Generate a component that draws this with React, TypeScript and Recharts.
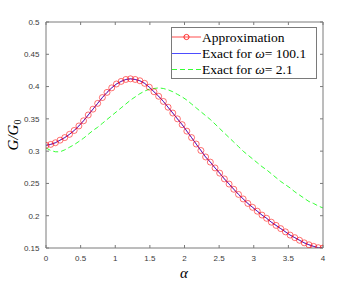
import React from 'react';
import { LineChart, Line, XAxis, YAxis, Label } from 'recharts';

const alpha = [0, 0.068, 0.136, 0.203, 0.271, 0.339, 0.407, 0.475, 0.542, 0.61, 0.678, 0.746, 0.814, 0.881, 0.949, 1.017, 1.085, 1.153, 1.22, 1.288, 1.356, 1.424, 1.492, 1.559, 1.627, 1.695, 1.763, 1.831, 1.898, 1.966, 2.034, 2.102, 2.169, 2.237, 2.305, 2.373, 2.441, 2.508, 2.576, 2.644, 2.712, 2.78, 2.847, 2.915, 2.983, 3.051, 3.119, 3.186, 3.254, 3.322, 3.39, 3.458, 3.525, 3.593, 3.661, 3.729, 3.797, 3.864, 3.932, 4];

const approximation = [0.309, 0.3105, 0.313, 0.317, 0.321, 0.326, 0.332, 0.339, 0.347, 0.356, 0.365, 0.374, 0.383, 0.391, 0.398, 0.404, 0.408, 0.411, 0.412, 0.411, 0.409, 0.405, 0.399, 0.392, 0.385, 0.377, 0.368, 0.359, 0.35, 0.341, 0.331, 0.321, 0.311, 0.301, 0.291, 0.283, 0.274, 0.266, 0.257, 0.249, 0.241, 0.233, 0.226, 0.219, 0.213, 0.207, 0.201, 0.196, 0.19, 0.185, 0.18, 0.175, 0.17, 0.166, 0.162, 0.158, 0.155, 0.1525, 0.1505, 0.15];

const exactOmega100 = [0.309, 0.3105, 0.313, 0.317, 0.321, 0.326, 0.332, 0.339, 0.347, 0.356, 0.365, 0.374, 0.383, 0.391, 0.398, 0.404, 0.408, 0.411, 0.412, 0.411, 0.409, 0.405, 0.399, 0.392, 0.385, 0.377, 0.368, 0.359, 0.35, 0.341, 0.331, 0.321, 0.311, 0.301, 0.291, 0.283, 0.274, 0.266, 0.257, 0.249, 0.241, 0.233, 0.226, 0.219, 0.213, 0.207, 0.201, 0.196, 0.19, 0.185, 0.18, 0.175, 0.17, 0.166, 0.162, 0.158, 0.155, 0.1525, 0.1505, 0.15];

const exactOmega2 = [0.305, 0.301, 0.299, 0.299, 0.302, 0.306, 0.31, 0.315, 0.32, 0.326, 0.332, 0.337, 0.343, 0.349, 0.355, 0.361, 0.367, 0.373, 0.379, 0.384, 0.389, 0.393, 0.396, 0.397, 0.398, 0.397, 0.395, 0.392, 0.388, 0.384, 0.379, 0.373, 0.367, 0.361, 0.355, 0.349, 0.342, 0.335, 0.328, 0.321, 0.314, 0.307, 0.3, 0.294, 0.288, 0.282, 0.276, 0.271, 0.265, 0.259, 0.253, 0.248, 0.243, 0.237, 0.232, 0.227, 0.222, 0.219, 0.215, 0.212];

const xTicks = [0, 0.5, 1, 1.5, 2, 2.5, 3, 3.5, 4];
const yTicks = [0.15, 0.2, 0.25, 0.3, 0.35, 0.4, 0.45, 0.5];

const legendLabels = ['Approximation', 'Exact for ', 'Exact for '];

const data = alpha.map((a, i) => ({
  alpha: a,
  approx: approximation[i],
  exact100: exactOmega100[i],
  exact2: exactOmega2[i],
}));

const AXIS = '#7a7a7a';
const TICKTXT = '#3a3a3a';
const SERIF = "'Liberation Serif', 'Times New Roman', serif";
const SANS = "'Liberation Sans', Arial, Helvetica, sans-serif";

const tickStyle = { fontSize: 8, fill: TICKTXT, fontFamily: SANS };

const YLabel = () => (
  <text
    transform="translate(18,135) rotate(-90)"
    textAnchor="middle"
    fontFamily={SERIF}
    fontStyle="italic"
    fontSize={15}
    fill="#000"
  >
    G/G<tspan fontSize={10} dy={3} fontStyle="normal">0</tspan>
  </text>
);

const XLabel = () => (
  <text x={184} y={278} textAnchor="middle" fontFamily={SERIF} fontStyle="italic" fontSize={15} fill="#000">
    α
  </text>
);

const LegendBox = () => (
  <svg width={146} height={52} style={{ position: 'absolute', left: 171, top: 27 }}>
    <rect x={0.5} y={0.5} width={145} height={51} fill="#fff" stroke="#7a7a7a" strokeWidth={1} />
    <line x1={1} x2={30} y1={10} y2={10} stroke="#ff0000" strokeWidth={0.7} />
    <circle cx={15.5} cy={10} r={2.6} fill="none" stroke="#ff0000" strokeWidth={0.8} />
    <line x1={1} x2={30} y1={26.5} y2={26.5} stroke="#0000ff" strokeWidth={0.7} />
    <line x1={1} x2={30} y1={42.5} y2={42.5} stroke="#00ff00" strokeWidth={0.8} strokeDasharray="5 3" />
    <text x={31} y={14.5} fontFamily={SERIF} fontSize={13.5} fill="#000">{legendLabels[0]}</text>
    <text x={31} y={31} fontFamily={SERIF} fontSize={13.5} fill="#000">
      {legendLabels[1]}<tspan fontStyle="italic">ω</tspan>= 100.1
    </text>
    <text x={31} y={47} fontFamily={SERIF} fontSize={13.5} fill="#000">
      {legendLabels[2]}<tspan fontStyle="italic">ω</tspan>= 2.1
    </text>
  </svg>
);

export default function App() {
  return (
    <div style={{ position: 'absolute', left: 0, top: 0, width: 357, height: 282, background: '#fff' }}>
      <LineChart width={357} height={282} data={data} margin={{ top: 21, right: 33, bottom: 0, left: 0 }}>
        <XAxis
          xAxisId="bottom"
          dataKey="alpha"
          type="number"
          domain={[0, 4]}
          ticks={xTicks}
          allowDataOverflow
          height={34}
          stroke={AXIS}
          tick={tickStyle}
          tickSize={-3}
          tickMargin={10}
          tickLine={{ stroke: AXIS }}
          tickFormatter={(v: number) => String(v)}
        >
          <Label content={<XLabel />} />
        </XAxis>
        <XAxis
          xAxisId="top"
          orientation="top"
          dataKey="alpha"
          type="number"
          domain={[0, 4]}
          ticks={xTicks}
          allowDataOverflow
          height={1}
          stroke={AXIS}
          tickSize={-3}
          tickLine={{ stroke: AXIS }}
          tickFormatter={() => ''}
        />
        <YAxis
          yAxisId="left"
          type="number"
          domain={[0.15, 0.5]}
          ticks={yTicks}
          allowDataOverflow
          width={46}
          stroke={AXIS}
          tick={tickStyle}
          tickSize={-3}
          tickMargin={9.5}
          tickLine={{ stroke: AXIS }}
          tickFormatter={(v: number) => String(v)}
        >
          <Label content={<YLabel />} />
        </YAxis>
        <YAxis
          yAxisId="right"
          orientation="right"
          type="number"
          domain={[0.15, 0.5]}
          ticks={yTicks}
          allowDataOverflow
          width={1}
          stroke={AXIS}
          tickSize={-3}
          tickLine={{ stroke: AXIS }}
          tickFormatter={() => ''}
        />
        <Line
          xAxisId="top"
          yAxisId="right"
          dataKey="exact2"
          stroke="#00ff00"
          strokeWidth={0.8}
          strokeDasharray="5 3"
          dot={false}
          isAnimationActive={false}
          type="linear"
        />
        <Line
          xAxisId="bottom"
          yAxisId="left"
          dataKey="approx"
          stroke="#ff0000"
          strokeWidth={0.6}
          dot={{ r: 3, stroke: '#ff0000', strokeWidth: 0.7, fill: 'none', strokeOpacity: 0.8 }}
          isAnimationActive={false}
          type="linear"
        />
        <Line
          xAxisId="bottom"
          yAxisId="left"
          dataKey="exact100"
          stroke="#0000ff"
          strokeWidth={0.7}
          dot={false}
          isAnimationActive={false}
          type="linear"
        />
      </LineChart>
      <LegendBox />
    </div>
  );
}
